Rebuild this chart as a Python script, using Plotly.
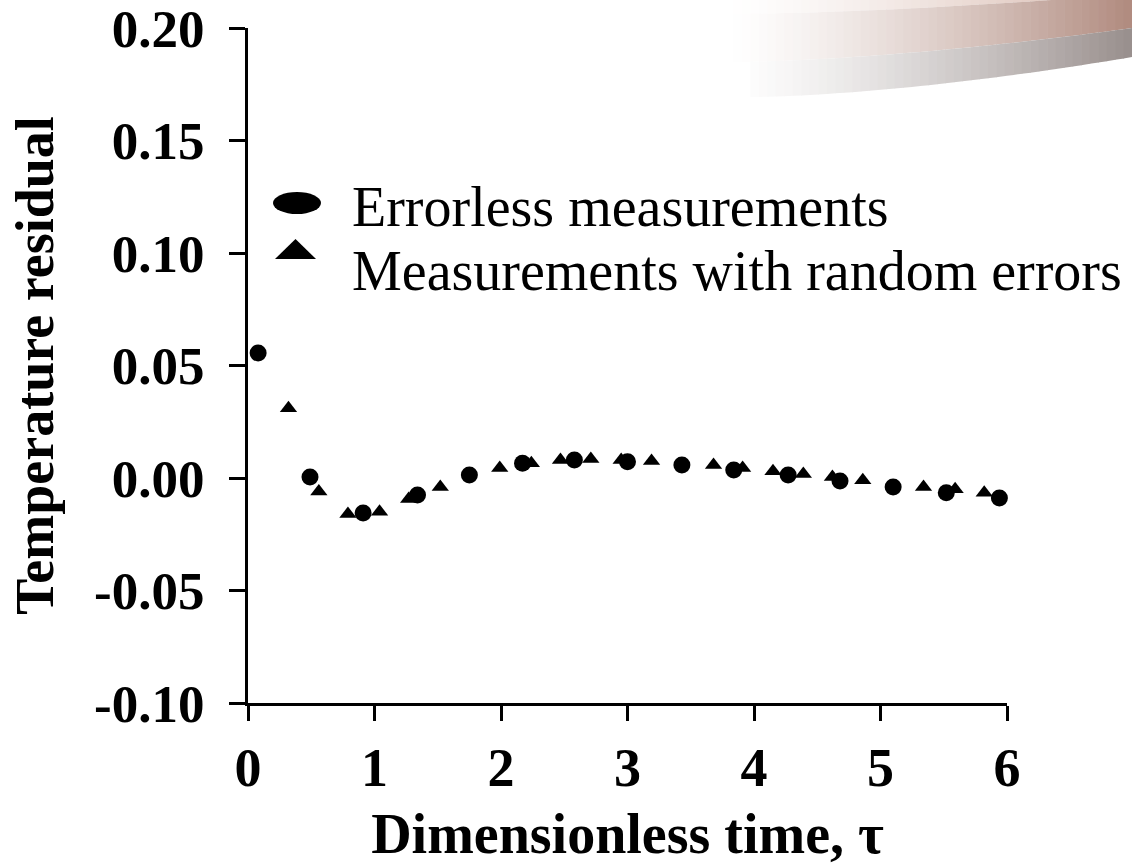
import plotly.graph_objects as go

# ---------------- data ----------------
tau_errorless = [0.08, 0.49, 0.91, 1.34, 1.75, 2.17, 2.58, 3.00, 3.43, 3.84, 4.27, 4.68, 5.10, 5.52, 5.94]
res_errorless = [0.0556, 0.0004, -0.0156, -0.0076, 0.0013, 0.0066, 0.0080, 0.0072, 0.0058, 0.0036,
                 0.0013, -0.0013, -0.0040, -0.0066, -0.0089]

tau_random = [0.32, 0.56, 0.79, 1.04, 1.27, 1.52, 1.99, 2.24, 2.47, 2.71, 2.95, 3.19, 3.68, 3.91,
              4.15, 4.39, 4.62, 4.86, 5.34, 5.59, 5.82]
res_random = [0.031, -0.006, -0.016, -0.015, -0.0093, -0.004, 0.0044, 0.0066, 0.0080, 0.0084, 0.0080,
              0.0076, 0.0058, 0.0044, 0.0030, 0.0018, 0.0004, -0.0010, -0.0040, -0.0050, -0.0066]

series_names = ["Errorless measurements", "Measurements with random errors"]
x_ticks = [0, 1, 2, 3, 4, 5, 6]
y_ticks = [-0.10, -0.05, 0.00, 0.05, 0.10, 0.15, 0.20]
y_tick_labels = ["-0.10", "-0.05", "0.00", "0.05", "0.10", "0.15", "0.20"]

# ---------------- layout geometry (pixels) ----------------
W, H = 1132, 866
L, R, T, B = 248, 1007, 28, 703
FONT = "Liberation Serif"


def px(x):
    return (x - L) / (R - L)


def py(y):
    return (B - y) / (B - T)


fig = go.Figure()
fig.add_trace(go.Scatter(
    x=tau_errorless, y=res_errorless, mode="markers", name=series_names[0],
    marker=dict(symbol="circle", size=17, color="black", line=dict(width=0)),
    cliponaxis=False, showlegend=False))
fig.add_trace(go.Scatter(
    x=tau_random, y=res_random, mode="markers", name=series_names[1],
    marker=dict(symbol="triangle-up", size=15, color="black", line=dict(width=0)),
    cliponaxis=False, showlegend=False))

shapes = []

# ---- decorative gradient swoosh in the top-right corner ----
def lerp(a, b, t):
    return a + (b - a) * t


def band_y(x, y_left, y_right, x_left):
    t = max(0.0, (x - x_left) / (W - x_left))
    return y_left - (y_left - y_right) * t ** 1.6


n = 48
x_start = 725
all_lines = [
    (727, -20, -40),  # above the picture
    (727, 14, -6),    # top of middle band
    (733, 62, 28),    # top of gray band
    (750, 97, 57),    # bottom edge
]
band_cols = [(214, 182, 170), (176, 138, 126), (152, 142, 140)]
for k in range(n):
    xa = lerp(x_start, W, k / n)
    xb = lerp(x_start, W, (k + 1) / n)
    t = ((xa + xb) / 2 - x_start) / (W - x_start)
    f = t ** 1.35
    for bi in range(3):
        up = all_lines[bi]
        lo = all_lines[bi + 1]
        c = band_cols[bi]
        if xa < lo[0]:
            continue
        col = "rgb(%d,%d,%d)" % tuple(round(lerp(255, ci, f)) for ci in c)
        ya_u = band_y(xa, up[1], up[2], up[0])
        yb_u = band_y(xb, up[1], up[2], up[0])
        ya_l = band_y(xa, lo[1], lo[2], lo[0])
        yb_l = band_y(xb, lo[1], lo[2], lo[0])
        path = "M %f %f L %f %f L %f %f L %f %f Z" % (
            px(xa), py(ya_u), px(xb + 0.6), py(yb_u), px(xb + 0.6), py(yb_l), px(xa), py(ya_l))
        shapes.append(dict(type="path", xref="paper", yref="paper", path=path,
                           fillcolor=col, line=dict(width=0), layer="below"))

# ---- legend symbols ----
shapes.append(dict(type="circle", xref="paper", yref="paper",
                   x0=px(273), x1=px(321), y0=py(214), y1=py(192),
                   fillcolor="black", line=dict(width=0)))
shapes.append(dict(type="path", xref="paper", yref="paper",
                   path="M %f %f L %f %f L %f %f Z" % (px(275), py(259), px(316), py(259), px(295.5), py(239)),
                   fillcolor="black", line=dict(width=0)))

annotations = [
    dict(text=series_names[0], xref="paper", yref="paper", x=px(350), y=py(207),
         xanchor="left", yanchor="middle", showarrow=False,
         font=dict(family=FONT, size=56, color="black")),
    dict(text=series_names[1], xref="paper", yref="paper", x=px(350), y=py(271),
         xanchor="left", yanchor="middle", showarrow=False,
         font=dict(family=FONT, size=56, color="black")),
]

fig.update_layout(
    width=W, height=H,
    margin=dict(l=L, r=W - R, t=T, b=H - B, autoexpand=False),
    paper_bgcolor="white", plot_bgcolor="white",
    shapes=shapes, annotations=annotations,
    showlegend=False,
    font=dict(family=FONT, color="black"),
)
fig.update_xaxes(
    range=[0, 6], tickvals=x_ticks, ticktext=[str(v) for v in x_ticks],
    showgrid=False, zeroline=False, showline=True, linecolor="black", linewidth=3,
    ticks="outside", ticklen=15, tickwidth=3, tickcolor="black",
    tickfont=dict(family=FONT, size=54, color="black", weight="bold"),
    ticklabelstandoff=0, ticklabeloverflow="allow",
    title=dict(text="Dimensionless time, τ", standoff=18,
               font=dict(family=FONT, size=56, color="black", weight="bold")),
)
fig.update_yaxes(
    range=[-0.10, 0.20], tickvals=y_ticks, ticktext=y_tick_labels,
    showgrid=False, zeroline=False, showline=True, linecolor="black", linewidth=3,
    ticks="outside", ticklen=16, tickwidth=3, tickcolor="black",
    tickfont=dict(family=FONT, size=53, color="black", weight="bold"),
    ticklabelstandoff=14, ticklabeloverflow="allow",
    title=dict(text="Temperature residual", standoff=24,
               font=dict(family=FONT, size=54, color="black", weight="bold")),
)

fig.write_html("out.html")
